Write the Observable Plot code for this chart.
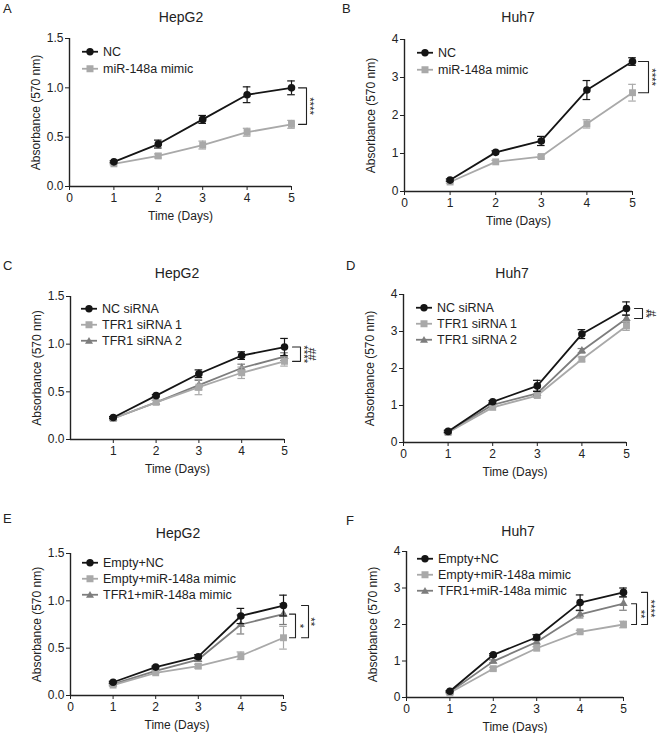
<!DOCTYPE html>
<html>
<head>
<meta charset="utf-8">
<script src="https://cdn.jsdelivr.net/npm/d3@7"></script>
<script src="https://cdn.jsdelivr.net/npm/@observablehq/plot@0.6"></script>
<style>
  html, body { margin: 0; padding: 0; background: #fff; }
  #fig { position: relative; width: 660px; height: 733px; background: #fff; font-family: "Liberation Sans", Arial, sans-serif; color: #222; overflow: hidden; -webkit-font-smoothing: antialiased; }
  .panel { position: absolute; }
  .panel svg { overflow: visible; }
  .letter { position: absolute; font-size: 13px; line-height: 1; }
  .title { position: absolute; font-size: 14px; line-height: 1; transform: translate(-50%, -50%); white-space: nowrap; }
  .leg { position: absolute; font-size: 12.5px; line-height: 1; white-space: nowrap; display: flex; align-items: center; transform: translateY(-50%); }
  .leg svg { margin-right: 5px; }
</style>
</head>
<body>
<div id="fig"></div>
<script>
// ---------- data ----------
const days = [1, 2, 3, 4, 5];

const A_NC = [0.25, 0.43, 0.68, 0.93, 1.00];
const A_NC_err = [0.01, 0.04, 0.04, 0.08, 0.07];
const A_mimic = [0.23, 0.31, 0.42, 0.55, 0.63];
const A_mimic_err = [0.01, 0.02, 0.04, 0.04, 0.04];

const B_NC = [0.30, 1.03, 1.33, 2.67, 3.42];
const B_NC_err = [0.03, 0.04, 0.12, 0.25, 0.10];
const B_mimic = [0.25, 0.78, 0.92, 1.78, 2.60];
const B_mimic_err = [0.03, 0.04, 0.04, 0.11, 0.22];

const C_NC = [0.23, 0.46, 0.69, 0.88, 0.97];
const C_NC_err = [0.01, 0.01, 0.04, 0.04, 0.09];
const C_si1 = [0.22, 0.39, 0.55, 0.70, 0.82];
const C_si1_err = [0.01, 0.02, 0.08, 0.06, 0.05];
const C_si2 = [0.22, 0.39, 0.57, 0.75, 0.87];
const C_si2_err = [0.01, 0.02, 0.05, 0.04, 0.04];

const D_NC = [0.30, 1.10, 1.53, 2.93, 3.62];
const D_NC_err = [0.03, 0.03, 0.15, 0.12, 0.18];
const D_si1 = [0.27, 0.95, 1.27, 2.25, 3.15];
const D_si1_err = [0.02, 0.04, 0.05, 0.06, 0.12];
const D_si2 = [0.28, 1.02, 1.33, 2.48, 3.35];
const D_si2_err = [0.02, 0.04, 0.06, 0.06, 0.10];

const E_NC = [0.14, 0.30, 0.41, 0.84, 0.95];
const E_NC_err = [0.01, 0.01, 0.02, 0.08, 0.11];
const E_mimic = [0.11, 0.24, 0.31, 0.42, 0.61];
const E_mimic_err = [0.01, 0.01, 0.02, 0.04, 0.12];
const E_tfr = [0.12, 0.26, 0.38, 0.75, 0.86];
const E_tfr_err = [0.01, 0.01, 0.02, 0.10, 0.11];

const F_NC = [0.17, 1.17, 1.65, 2.60, 2.88];
const F_NC_err = [0.02, 0.03, 0.07, 0.21, 0.12];
const F_mimic = [0.13, 0.79, 1.35, 1.80, 2.00];
const F_mimic_err = [0.02, 0.04, 0.04, 0.04, 0.09];
const F_tfr = [0.15, 0.99, 1.52, 2.28, 2.57];
const F_tfr_err = [0.02, 0.04, 0.05, 0.10, 0.18];

const hepTicks = [0, 0.5, 1.0, 1.5];
const huhTicks = [0, 1, 2, 3, 4];
const dayTicksFull = [0, 1, 2, 3, 4, 5];
const dayTicksNoZero = [1, 2, 3, 4, 5];

// ---------- styles ----------
const BLACK = "#151515", LIGHT = "#a9a9a9", MID = "#7d7d7d";
const FONT = "'Liberation Sans', Arial, sans-serif";

const fig = document.getElementById("fig");

function rows(vals, errs) { return days.map((d, i) => ({x: d, y: vals[i], e: errs[i]})); }

function el(cls, parent, text) {
  const e = document.createElement("div"); e.className = cls; if (text) e.textContent = text; parent.appendChild(e); return e;
}

function legendSymbol(color, symbol) {
  const ns = "http://www.w3.org/2000/svg";
  const s = document.createElementNS(ns, "svg");
  s.setAttribute("width", 16); s.setAttribute("height", 10);
  const l = document.createElementNS(ns, "line");
  l.setAttribute("x1", 0); l.setAttribute("x2", 16); l.setAttribute("y1", 5); l.setAttribute("y2", 5);
  l.setAttribute("stroke", color); l.setAttribute("stroke-width", 1.8);
  s.appendChild(l);
  let m;
  if (symbol === "circle") { m = document.createElementNS(ns, "circle"); m.setAttribute("cx", 8); m.setAttribute("cy", 5); m.setAttribute("r", 3.7); }
  else if (symbol === "square") { m = document.createElementNS(ns, "rect"); m.setAttribute("x", 4.5); m.setAttribute("y", 1.5); m.setAttribute("width", 7); m.setAttribute("height", 7); }
  else { m = document.createElementNS(ns, "path"); m.setAttribute("d", "M8,1.2L12,8L4,8Z"); }
  m.setAttribute("fill", color);
  s.appendChild(m);
  return s;
}

function panel(cfg) {
  const wrap = el("panel", fig);
  wrap.style.left = cfg.left + "px"; wrap.style.top = cfg.top + "px";
  wrap.style.width = cfg.width + "px"; wrap.style.height = cfg.height + "px";
  const pxPerDay = (cfg.width - cfg.ml - cfg.mr) / 5;
  const off = px => 5 + px / pxPerDay;
  const capHalf = 3.8 / pxPerDay;

  const marks = [];
  const ordered = cfg.series.slice().reverse();
  for (const s of ordered) {
    const data = rows(s.vals, s.errs);
    marks.push(Plot.ruleX(data, {x: "x", y1: d => d.y - d.e, y2: d => d.y + d.e, stroke: s.color, strokeWidth: 1.2}));
    marks.push(Plot.ruleY(data, {y: d => d.y + d.e, x1: d => d.x - capHalf, x2: d => d.x + capHalf, stroke: s.color, strokeWidth: 1.2}));
    marks.push(Plot.ruleY(data, {y: d => d.y - d.e, x1: d => d.x - capHalf, x2: d => d.x + capHalf, stroke: s.color, strokeWidth: 1.2}));
    marks.push(Plot.line(data, {x: "x", y: "y", stroke: s.color, strokeWidth: 1.8}));
    marks.push(Plot.dot(data, {x: "x", y: "y", symbol: s.symbol, fill: s.color, stroke: "none", r: s.symbol === "circle" ? 3.8 : s.symbol === "square" ? 3.9 : 3.1}));
  }
  for (const b of cfg.brackets) {
    const yTop = b.top[4], yBot = b.bot[4];
    const path = [
      {x: off(b.x0), y: yTop}, {x: off(b.x1), y: yTop},
      {x: off(b.x1), y: yBot}, {x: off(b.x0), y: yBot}
    ];
    marks.push(Plot.line(path, {x: "x", y: "y", stroke: "#222222", strokeWidth: 1.1}));
    for (const t of b.labels) {
      marks.push(Plot.text([{label: t.text, x: off(t.dx), y: (yTop + yBot) / 2}], {x: "x", y: "y", text: "label", rotate: 90, fontSize: 11.5, fill: "#222222"}));
    }
  }
  marks.push(Plot.axisX({ticks: cfg.xTicks, tickFormat: d3.format("d"), tickSize: 4, tickPadding: 3, fontSize: 12,
    label: "Time (Days)", labelAnchor: "center", labelOffset: 33, labelArrow: "none"}));
  marks.push(Plot.axisY({ticks: cfg.yTicks, tickFormat: cfg.fmt, tickSize: 4, tickPadding: 2, fontSize: 12,
    label: "Absorbance (570 nm)", labelAnchor: "center", labelOffset: 38, labelArrow: "none"}));
  marks.push(Plot.ruleX([0], {stroke: "#222222", strokeWidth: 1.4}));
  marks.push(Plot.ruleY([0], {stroke: "#222222", strokeWidth: 1.4}));

  const chart = Plot.plot({
    width: cfg.width, height: cfg.height,
    marginLeft: cfg.ml, marginRight: cfg.mr, marginTop: cfg.mt, marginBottom: cfg.mb,
    style: {fontFamily: FONT, fontSize: "12px", color: "#222", background: "transparent", overflow: "visible"},
    x: {domain: [0, 5]},
    y: {domain: [0, cfg.yMax]},
    marks
  });
  wrap.appendChild(chart);

  const letter = el("letter", wrap, cfg.letter);
  letter.style.left = cfg.letterPos[0] + "px"; letter.style.top = cfg.letterPos[1] + "px";
  const title = el("title", wrap, cfg.title);
  title.style.left = cfg.titlePos[0] + "px"; title.style.top = cfg.titlePos[1] + "px";
  cfg.series.forEach((s, i) => {
    const row = el("leg", wrap);
    row.style.left = cfg.legPos[0] + "px"; row.style.top = (cfg.legPos[1] + i * cfg.legStep) + "px";
    row.appendChild(legendSymbol(s.color, s.symbol));
    const t = document.createElement("span"); t.textContent = s.name; row.appendChild(t);
  });
}

const fmt1 = d3.format(".1f"), fmt0 = d3.format("d");

panel({
  left: 0, top: 0, width: 330, height: 240, ml: 69, mr: 39, mt: 38, mb: 54,
  yMax: 1.5, yTicks: hepTicks, fmt: fmt1, xTicks: dayTicksFull,
  letter: "A", letterPos: [3, 2], title: "HepG2", titlePos: [181, 17],
  legPos: [82, 52], legStep: 17,
  series: [
    {name: "NC", vals: A_NC, errs: A_NC_err, color: BLACK, symbol: "circle"},
    {name: "miR-148a mimic", vals: A_mimic, errs: A_mimic_err, color: LIGHT, symbol: "square"}
  ],
  brackets: [{top: A_NC, bot: A_mimic, x0: 7, x1: 15, labels: [{text: "****", dx: 18}]}]
});

panel({
  left: 330, top: 0, width: 330, height: 240, ml: 74, mr: 28, mt: 39, mb: 49,
  yMax: 4, yTicks: huhTicks, fmt: fmt0, xTicks: dayTicksFull,
  letter: "B", letterPos: [12, 2], title: "Huh7", titlePos: [188, 17],
  legPos: [87, 53], legStep: 17,
  series: [
    {name: "NC", vals: B_NC, errs: B_NC_err, color: BLACK, symbol: "circle"},
    {name: "miR-148a mimic", vals: B_mimic, errs: B_mimic_err, color: LIGHT, symbol: "square"}
  ],
  brackets: [{top: B_NC, bot: B_mimic, x0: 6, x1: 16, labels: [{text: "****", dx: 19}]}]
});

panel({
  left: 0, top: 240, width: 330, height: 240, ml: 70, mr: 46, mt: 56, mb: 41,
  yMax: 1.5, yTicks: hepTicks, fmt: fmt1, xTicks: dayTicksNoZero,
  letter: "C", letterPos: [3, 19], title: "HepG2", titlePos: [177, 33],
  legPos: [81, 69], legStep: 16,
  series: [
    {name: "NC siRNA", vals: C_NC, errs: C_NC_err, color: BLACK, symbol: "circle"},
    {name: "TFR1 siRNA 1", vals: C_si1, errs: C_si1_err, color: LIGHT, symbol: "square"},
    {name: "TFR1 siRNA 2", vals: C_si2, errs: C_si2_err, color: MID, symbol: "triangle"}
  ],
  brackets: [{top: C_NC, bot: C_si1, x0: 8, x1: 16, labels: [{text: "****", dx: 19}, {text: "##", dx: 27}]}]
});

panel({
  left: 330, top: 240, width: 330, height: 240, ml: 73, mr: 34, mt: 54, mb: 38,
  yMax: 4, yTicks: huhTicks, fmt: fmt0, xTicks: dayTicksFull,
  letter: "D", letterPos: [16, 19], title: "Huh7", titlePos: [182, 33],
  legPos: [86, 68], legStep: 16,
  series: [
    {name: "NC siRNA", vals: D_NC, errs: D_NC_err, color: BLACK, symbol: "circle"},
    {name: "TFR1 siRNA 1", vals: D_si1, errs: D_si1_err, color: LIGHT, symbol: "square"},
    {name: "TFR1 siRNA 2", vals: D_si2, errs: D_si2_err, color: MID, symbol: "triangle"}
  ],
  brackets: [{top: D_NC, bot: D_si2, x0: 8, x1: 16, labels: [{text: "**", dx: 19}, {text: "#", dx: 25}]}]
});

panel({
  left: 0, top: 480, width: 330, height: 253, ml: 70, mr: 47, mt: 73, mb: 38,
  yMax: 1.5, yTicks: hepTicks, fmt: fmt1, xTicks: dayTicksFull,
  letter: "E", letterPos: [3, 32], title: "HepG2", titlePos: [178, 53],
  legPos: [82, 83], legStep: 16,
  series: [
    {name: "Empty+NC", vals: E_NC, errs: E_NC_err, color: BLACK, symbol: "circle"},
    {name: "Empty+miR-148a mimic", vals: E_mimic, errs: E_mimic_err, color: LIGHT, symbol: "square"},
    {name: "TFR1+miR-148a mimic", vals: E_tfr, errs: E_tfr_err, color: MID, symbol: "triangle"}
  ],
  brackets: [
    {top: E_tfr, bot: E_mimic, x0: 6, x1: 12, labels: [{text: "*", dx: 16}]},
    {top: E_NC, bot: E_mimic, x0: 18, x1: 25, labels: [{text: "**", dx: 27}]}
  ]
});

panel({
  left: 330, top: 480, width: 330, height: 253, ml: 76, mr: 37, mt: 71, mb: 36,
  yMax: 4, yTicks: huhTicks, fmt: fmt0, xTicks: dayTicksFull,
  letter: "F", letterPos: [16, 34], title: "Huh7", titlePos: [188, 51],
  legPos: [87, 79], legStep: 16,
  series: [
    {name: "Empty+NC", vals: F_NC, errs: F_NC_err, color: BLACK, symbol: "circle"},
    {name: "Empty+miR-148a mimic", vals: F_mimic, errs: F_mimic_err, color: LIGHT, symbol: "square"},
    {name: "TFR1+miR-148a mimic", vals: F_tfr, errs: F_tfr_err, color: MID, symbol: "triangle"}
  ],
  brackets: [
    {top: F_tfr, bot: F_mimic, x0: 8, x1: 13, labels: [{text: "**", dx: 17}]},
    {top: F_NC, bot: F_mimic, x0: 18, x1: 24, labels: [{text: "****", dx: 27}]}
  ]
});
</script>
</body>
</html>
